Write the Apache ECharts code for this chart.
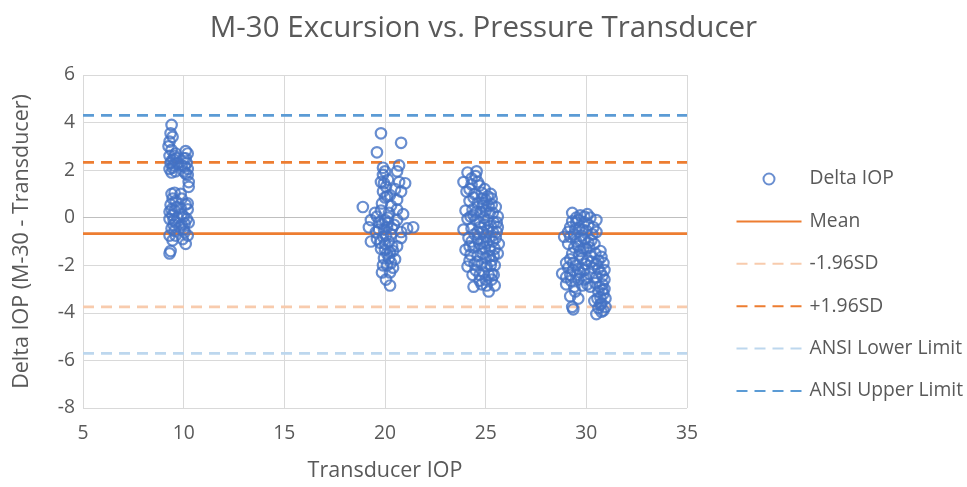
<!DOCTYPE html>
<html>
<head>
<meta charset="utf-8">
<script src="https://cdn.jsdelivr.net/npm/echarts@6/dist/echarts.min.js"></script>
<style>
html,body{margin:0;padding:0;background:#fff;}
#chart{width:967px;height:487px;}
</style>
</head>
<body>
<div id="chart"></div>
<script>
// Delta IOP points, cluster around transducer IOP ~10
var cluster10 = [
  [9.4,3.9],[9.35,3.55],[9.45,3.4],[9.3,3.2],[9.25,3.0],[9.4,2.85],[9.3,2.6],[9.5,2.45],[9.35,2.3],[9.45,2.1],
  [9.6,1.95],[9.3,2.05],[9.4,1.0],[9.55,1.05],[9.35,0.55],[9.6,0.7],[9.3,0.25],[9.45,0.1],[9.3,-0.05],[9.6,-0.2],
  [9.4,-0.45],[9.55,-0.55],[9.3,-0.75],[9.45,-0.95],[9.35,-1.4],[9.3,-1.5],[9.6,2.7],[9.7,2.3],
  [10.1,2.8],[10.2,2.7],[10.0,2.5],[10.15,2.3],[9.9,2.2],[10.2,2.05],[10.1,1.85],[10.2,1.8],[10.25,1.3],[9.9,0.8],
  [10.1,0.55],[10.2,0.35],[9.85,0.4],[10.0,0.05],[10.15,-0.05],[10.25,-0.2],[9.9,-0.3],[10.05,-0.6],[10.2,-0.75],
  [9.95,-0.9],[10.1,-1.1],[10.25,1.5],
  [9.5,2.2],[9.4,1.9],[9.65,2.5],[10.05,2.15],[9.55,0.3],[9.7,0.0],[9.8,-0.4],[9.5,-0.3],[10.0,-0.5],[9.65,0.45],
  [9.9,0.15],[10.2,0.6],[9.85,1.0],[9.45,0.8],
  [9.4,2.4],[9.55,2.6],[10.1,2.5],[10.0,1.95],[9.5,-0.1],[10.05,-0.25],[9.6,-0.75],[9.4,0.35]
];
// cluster around ~20
var cluster20 = [
  [19.8,3.55],[20.8,3.15],[19.6,2.75],[19.9,2.1],[20.0,1.95],[20.7,2.2],[20.6,1.95],[21.0,1.45],[19.8,1.5],[20.05,1.3],
  [19.9,1.1],[20.8,1.1],[20.0,0.85],[20.5,1.2],[20.6,0.75],[19.85,0.6],[18.9,0.45],[19.5,0.2],[19.3,-0.1],[19.6,0.05],
  [20.6,0.35],[20.9,0.15],[20.2,0.2],[20.0,-0.1],[21.4,-0.4],[21.1,-0.45],[20.8,-0.6],[19.2,-0.4],[19.7,-0.5],[20.1,-0.4],
  [20.3,-0.7],[19.3,-1.0],[19.6,-0.9],[19.9,-0.8],[20.2,-1.0],[20.8,-0.85],[20.6,-1.2],[19.8,-1.3],[20.1,-1.5],[20.4,-1.4],
  [19.95,-1.7],[20.5,-1.75],[20.3,-1.9],[19.9,-2.0],[20.25,-2.3],[20.05,-2.6],[20.25,-2.85],[20.0,-1.1],[20.3,0.5],[20.15,1.6],
  [19.7,-0.2],
  [19.9,1.8],[20.1,0.9],[19.8,0.3],[20.15,-0.2],[19.95,-0.5],[20.45,-0.3],[20.05,-0.75],[19.75,-1.05],[20.35,-1.2],[20.2,-1.7],
  [19.85,-2.3],[20.4,-2.1],[20.6,-0.1],[19.55,-0.6],[20.7,1.5],
  [19.95,1.45],[20.25,0.95],[20.15,0.0],[19.85,-0.25],[20.35,-0.45],[20.0,-1.35],[20.25,-1.45],[20.1,-2.0]
];
// cluster around ~25
var cluster25 = [
  [24.1,1.9],[24.55,1.95],[24.5,1.75],[23.9,1.5],[24.3,1.4],[24.05,1.1],[24.45,1.0],[24.8,1.05],[25.1,0.9],[24.2,0.7],
  [24.6,0.6],[25.0,0.75],[25.3,0.55],[25.5,0.45],[24.0,0.3],[24.35,0.35],[24.75,0.25],[25.2,0.2],[25.6,0.05],[24.1,-0.05],
  [24.5,-0.1],[24.9,0.0],[25.4,-0.2],[23.9,-0.5],[24.3,-0.45],[24.7,-0.4],[25.1,-0.55],[25.55,-0.6],[24.15,-0.85],[24.6,-0.9],
  [25.0,-0.8],[25.35,-1.0],[25.65,-1.1],[24.4,-1.25],[24.8,-1.3],[25.2,-1.35],[24.0,-1.35],[24.6,-1.6],[25.0,-1.7],[25.4,-1.6],
  [24.2,-1.8],[24.8,-1.95],[25.25,-2.0],[24.1,-2.05],[24.5,-2.2],[24.9,-2.3],[25.3,-2.35],[25.0,-2.6],[24.4,-2.9],[25.15,-3.1],
  [25.45,-2.85],[24.7,-2.65],[25.55,-0.2],[24.85,0.5],[25.45,-2.0],
  [24.3,1.65],[24.7,1.35],[24.95,1.2],[25.25,1.0],[24.4,0.85],[24.8,0.8],[25.15,0.5],[24.55,0.25],[25.0,0.3],[25.35,0.2],
  [24.25,0.05],[24.7,-0.2],[25.1,-0.1],[25.25,-0.35],[24.45,-0.7],[24.85,-0.6],[25.2,-0.8],[25.5,-0.85],[24.3,-1.0],[24.7,-1.1],
  [25.05,-1.05],[25.45,-1.3],[24.25,-1.55],[24.85,-1.5],[25.2,-1.6],[24.45,-1.95],[25.05,-2.05],[24.7,-2.4],[25.15,-2.4],[24.8,-2.8],
  [25.3,-2.6],[25.6,-1.5],[25.6,-0.4],
  [24.2,1.2],[24.6,1.5],[24.9,0.6],[25.3,0.8],[24.4,0.1],[24.95,-0.3],[25.35,-0.6],[24.6,-0.6],[24.2,-1.2],[24.95,-1.25],
  [25.3,-1.8],[24.6,-1.85],[24.35,-2.4],[25.05,-2.85],[25.4,-2.4],[24.9,-1.0]
];
// cluster around ~30
var cluster30 = [
  [29.3,0.2],[29.7,0.1],[30.05,0.15],[30.5,-0.1],[28.9,-0.8],[29.2,-0.4],[29.5,-0.2],[29.8,-0.5],[30.1,-0.3],[29.4,-0.7],
  [29.9,-0.9],[30.3,-0.7],[29.1,-1.1],[29.6,-1.2],[30.0,-1.3],[30.4,-1.1],[30.7,-1.4],[29.3,-1.5],[29.8,-1.7],[30.2,-1.6],
  [30.6,-1.8],[30.85,-1.9],[29.0,-1.9],[29.5,-2.0],[29.9,-2.2],[30.3,-2.1],[30.7,-2.3],[28.8,-2.35],[29.2,-2.4],[29.6,-2.6],
  [30.0,-2.55],[30.5,-2.5],[30.9,-2.6],[29.0,-2.8],[29.4,-2.9],[29.8,-2.85],[30.65,-2.9],[30.9,-3.0],[29.2,-3.3],[29.6,-3.4],
  [30.7,-3.35],[30.95,-3.4],[29.35,-3.85],[29.3,-3.75],[30.6,-3.8],[30.85,-3.9],[30.5,-4.05],[30.2,-2.9],[30.75,-3.6],[29.9,-0.2],
  [30.5,-0.6],[29.1,-2.1],[30.8,-2.8],[29.7,-1.0],
  [29.5,0.0],[29.9,0.05],[29.3,-0.15],[29.65,-0.45],[30.0,-0.55],[30.25,-0.95],[29.2,-0.8],[29.5,-1.0],[29.85,-1.3],[30.15,-1.25],
  [29.4,-1.25],[29.65,-1.55],[30.05,-1.8],[30.45,-1.5],[29.2,-1.75],[29.7,-2.3],[30.15,-2.35],[29.35,-2.2],[29.55,-2.4],[30.45,-2.75],
  [30.6,-2.15],[30.8,-2.45],[30.9,-2.2],[30.6,-3.1],[30.85,-3.2],[30.7,-3.65],[30.95,-3.75],[30.4,-3.5],[29.45,-3.1],[29.0,-2.5],
  [29.9,-2.6],[30.25,-1.85],[30.75,-1.65],[29.75,-0.75],
  [29.6,-0.1],[30.2,0.0],[29.1,-0.6],[29.45,-0.5],[30.35,-0.4],[29.7,-1.4],[30.1,-1.05],[29.35,-1.9],[29.95,-1.95],[30.5,-1.95],
  [29.6,-2.15],[29.25,-2.65],[30.05,-2.8],[30.55,-3.4],[30.75,-3.95],[30.8,-3.05]
];
// reference line levels
var meanValue = -0.67;
var minus196SD = -3.75;
var plus196SD = 2.33;
var ansiLower = -5.7;
var ansiUpper = 4.3;
var xRange = [5, 35];
var legendNames = ['Delta IOP','Mean','-1.96SD','+1.96SD','ANSI Lower Limit','ANSI Upper Limit'];

var deltaData = cluster10.concat(cluster20, cluster25, cluster30);
function hLine(v){ return [[xRange[0], v],[xRange[1], v]]; }

var FONT = 'Open Sans';
var TXT = '#595959';
var chart = echarts.init(document.getElementById('chart'));
function lineSeries(name, v, color, dashed){
  return {
    name: name, type: 'line', data: hLine(v), symbol: 'none', silent: true,
    lineStyle: {color: color, width: 2.75, type: dashed ? [11,7] : 'solid'},
    itemStyle: {color: 'rgba(0,0,0,0)', borderWidth: 0, borderColor: 'rgba(0,0,0,0)'},
    z: 3, animation: false
  };
}
chart.setOption({
  animation: false,
  title: {
    text: 'M-30 Excursion vs. Pressure Transducer', left: 'center', top: 9,
    textStyle: {fontFamily: FONT, fontSize: 29.5, fontWeight: 'normal', color: TXT}
  },
  legend: {
    orient: 'vertical', left: 730.5, top: 164.5, itemWidth: 65, itemHeight: 11, itemGap: 23.4,
    data: legendNames,
    textStyle: {fontFamily: FONT, fontSize: 19.3, color: TXT, padding: [0,0,0,3]}
  },
  grid: {left: 83, right: 280, top: 75, bottom: 76},
  xAxis: {
    type: 'value', min: 5, max: 35, interval: 5,
    name: 'Transducer IOP', nameLocation: 'middle', nameGap: 52,
    nameTextStyle: {fontFamily: FONT, fontSize: 21.5, color: TXT},
    axisLine: {show: false}, axisTick: {show: false},
    axisLabel: {fontFamily: FONT, fontSize: 19.3, color: TXT, margin: 16},
    splitLine: {show: true, lineStyle: {color: '#D9D9D9', width: 1}}
  },
  yAxis: {
    type: 'value', min: -8, max: 6, interval: 2,
    name: 'Delta IOP (M-30 - Transducer)', nameLocation: 'middle', nameGap: 50,
    nameTextStyle: {fontFamily: FONT, fontSize: 21.5, color: TXT},
    axisLine: {show: false}, axisTick: {show: false},
    axisLabel: {fontFamily: FONT, fontSize: 19.3, color: TXT, margin: 8},
    splitLine: {show: true, lineStyle: {color: '#D9D9D9', width: 1}}
  },
  series: [
    {
      name: 'Delta IOP', type: 'scatter', data: deltaData, symbol: 'circle', symbolSize: 10.5,
      itemStyle: {color: 'rgba(0,0,0,0)', borderColor: '#4472C4', borderWidth: 2.2}, z: 5,
      markLine: {
        silent: true, symbol: 'none', label: {show: false},
        lineStyle: {color: '#BFBFBF', width: 1.2, type: 'solid'},
        data: [{yAxis: 0}], z: 1
      }
    },
    lineSeries('Mean', meanValue, '#ED7D31', false),
    lineSeries('-1.96SD', minus196SD, '#F8CBAD', true),
    lineSeries('+1.96SD', plus196SD, '#ED7D31', true),
    lineSeries('ANSI Lower Limit', ansiLower, '#BDD7EE', true),
    lineSeries('ANSI Upper Limit', ansiUpper, '#5B9BD5', true)
  ]
});
</script>
</body>
</html>
